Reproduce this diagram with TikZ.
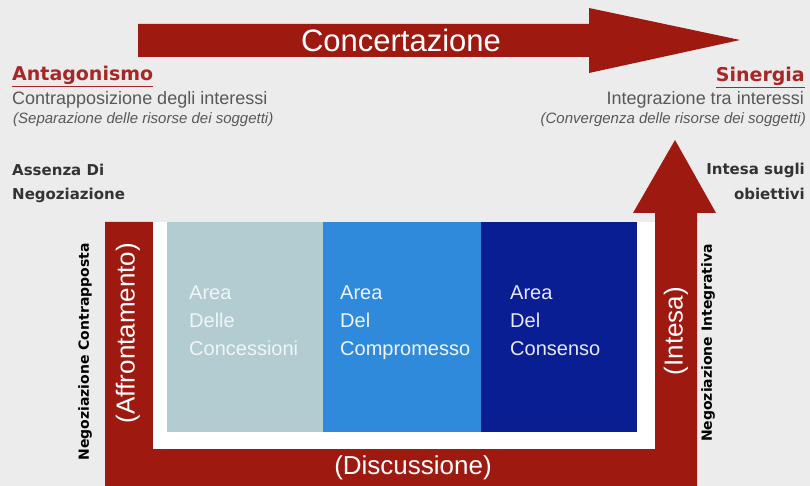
\documentclass[tikz,border=0pt]{standalone}
\usepackage{fontspec}
\setmainfont{Liberation Sans}
\newfontfamily\dejavu{DejaVu Sans}
\definecolor{arrowred}{RGB}{158,26,16}
\definecolor{titlered}{RGB}{168,38,38}
\definecolor{bgcol}{RGB}{236,236,236}
\definecolor{areaA}{RGB}{178,204,210}
\definecolor{areaB}{RGB}{48,138,220}
\definecolor{areaC}{RGB}{10,30,148}
\definecolor{textgray}{RGB}{88,88,88}
\begin{document}
\begin{tikzpicture}[x=1pt, y=1pt, inner sep=0pt, line join=round,
  redarrow/.style={fill=arrowred, draw=none},
  bigwhite/.style={text=white, font=\fontsize{26}{30}\selectfont},
  sidetitle/.style={text=titlered, font=\dejavu\bfseries\fontsize{19}{23}\selectfont},
  sidetext/.style={text=textgray, font=\fontsize{18}{21}\selectfont},
  sidenote/.style={text=textgray, font=\itshape\fontsize{15}{18}\selectfont},
  sidebold/.style={text=black!80, font=\dejavu\bfseries\fontsize{15}{24}\selectfont},
  sidelabel/.style={text=black, rotate=90, font=\dejavu\bfseries\fontsize{14}{16}\selectfont},
  areatext/.style={anchor=north west, align=left, text=white, font=\fontsize{20}{28}\selectfont}]
  \fill[bgcol] (0,0) rectangle (810,486);
  % top arrow
  \fill[redarrow] (138,462)--(589,462)--(589,478)--(740,446)--(589,413)--(589,429)--(138,429)--cycle;
  \node[bigwhite, font=\fontsize{31}{34}\selectfont] (concert) at (401,446) {Concertazione};
  % left side
  \node[sidetitle, anchor=base west] (antag) at (12,405) {\underline{Antagonismo}};
  \node[sidetext, anchor=base west] (contrap) at (12,381) {Contrapposizione degli interessi};
  \node[sidenote, anchor=base west] (separ) at (13,362) {(Separazione delle risorse dei soggetti)};
  \node[sidebold, anchor=base west] (assenza) at (12,310) {Assenza Di};
  \node[sidebold, anchor=base west] (negoz) at (12,286) {Negoziazione};
  % right side
  \node[sidetitle, anchor=base east] (sinerg) at (805,404) {\underline{Sinergia}};
  \node[sidetext, anchor=base east] (integr) at (804,381) {Integrazione tra interessi};
  \node[sidenote, anchor=base east] (converg) at (806,362) {(Convergenza delle risorse dei soggetti)};
  \node[sidebold, anchor=base east] (intesa) at (805,311) {Intesa sugli};
  \node[sidebold, anchor=base east] (obiett) at (805,286) {obiettivi};
  % U arrow
  \fill[redarrow] (105,264)--(105,0)--(697,0)--(697,273)--(716,273)--(675,346)--(633,273)--(655,273)
    --(655,37)--(153,37)--(153,264)--cycle;
  \fill[white] (153,37) rectangle (655,264);
  \fill[areaA] (167,54) rectangle (323,264);
  \fill[areaB] (323,54) rectangle (481,264);
  \fill[areaC] (481,54) rectangle (637,264);
  \node[areatext, text=white!80!areaA] (concess) at (189,200) {Area\\Delle\\Concessioni};
  \node[areatext, text=white!92!areaB] (comprom) at (340,200) {Area\\Del\\Compromesso};
  \node[areatext, text=white!90!areaC] (consens) at (510,200) {Area\\Del\\Consenso};
  \node[bigwhite, rotate=90] (affront) at (128,153) {(Affrontamento)};
  \node[bigwhite, rotate=90] (intesalab) at (676,155) {(Intesa)};
  \node[bigwhite] (discuss) at (413,18) {(Discussione)};
  \node[sidelabel] (negcontr) at (85,134) {Negoziazione Contrapposta};
  \node[sidelabel] (neginteg) at (708,143) {Negoziazione Integrativa};
\end{tikzpicture}
\end{document}
